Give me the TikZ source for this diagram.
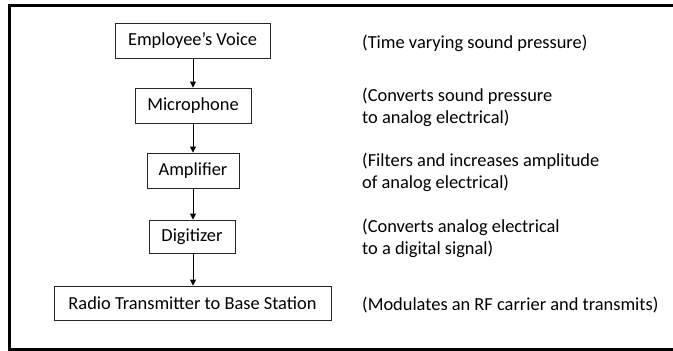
\documentclass[tikz,border=0pt]{standalone}
\usepackage{fontspec}
\setmainfont{Carlito}
\usetikzlibrary{arrows.meta}
\begin{document}
\begin{tikzpicture}[x=1pt,y=-1pt,
  box/.style={draw=black!85,line width=0.9pt,inner sep=0pt,font=\fontsize{18.4}{22}\selectfont},
  note/.style={anchor=west,align=left,inner sep=0pt,font=\fontsize{18.4}{22}\selectfont},
  flow/.style={line width=0.9pt,-{Triangle[length=6pt,width=6pt]}}]
\useasboundingbox (0,0) rectangle (673,351);
\clip (0,0) rectangle (673,351);
\draw[line width=3pt] (690,5) -- (9.5,5) -- (9.5,349) -- (690,349);
\node[box,minimum width=155pt,minimum height=35pt] (ev) at (192.5,40.5) {Employee’s Voice};
\node[box,minimum width=116pt,minimum height=35pt] (mic) at (193,105.5) {Microphone};
\node[box,minimum width=92pt,minimum height=35pt] (amp) at (193,170.5) {Amplifier};
\node[box,minimum width=86pt,minimum height=33pt] (dig) at (192,236.5) {Digitizer};
\node[box,minimum width=277pt,minimum height=34pt] (rad) at (192.5,303) {Radio Transmitter to Base Station};
\draw[flow] (ev.south -| mic) -- (mic.north);
\draw[flow] (mic.south) -- (amp.north);
\draw[flow] (amp.south) -- (amp.south |- dig.north);
\draw[flow] (dig.south -| amp) -- (amp |- rad.north);
\node[note] (t1) at (362,43) {(Time varying sound pressure)};
\node[note] (t2) at (362,107.5) {(Converts sound pressure\\to analog electrical)};
\node[note] (t3) at (362,172.5) {(Filters and increases amplitude\\of analog electrical)};
\node[note] (t4) at (362,238.5) {(Converts analog electrical\\to a digital signal)};
\node[note] (t5) at (362,305) {(Modulates an RF carrier and transmits)};
\end{tikzpicture}
\end{document}
